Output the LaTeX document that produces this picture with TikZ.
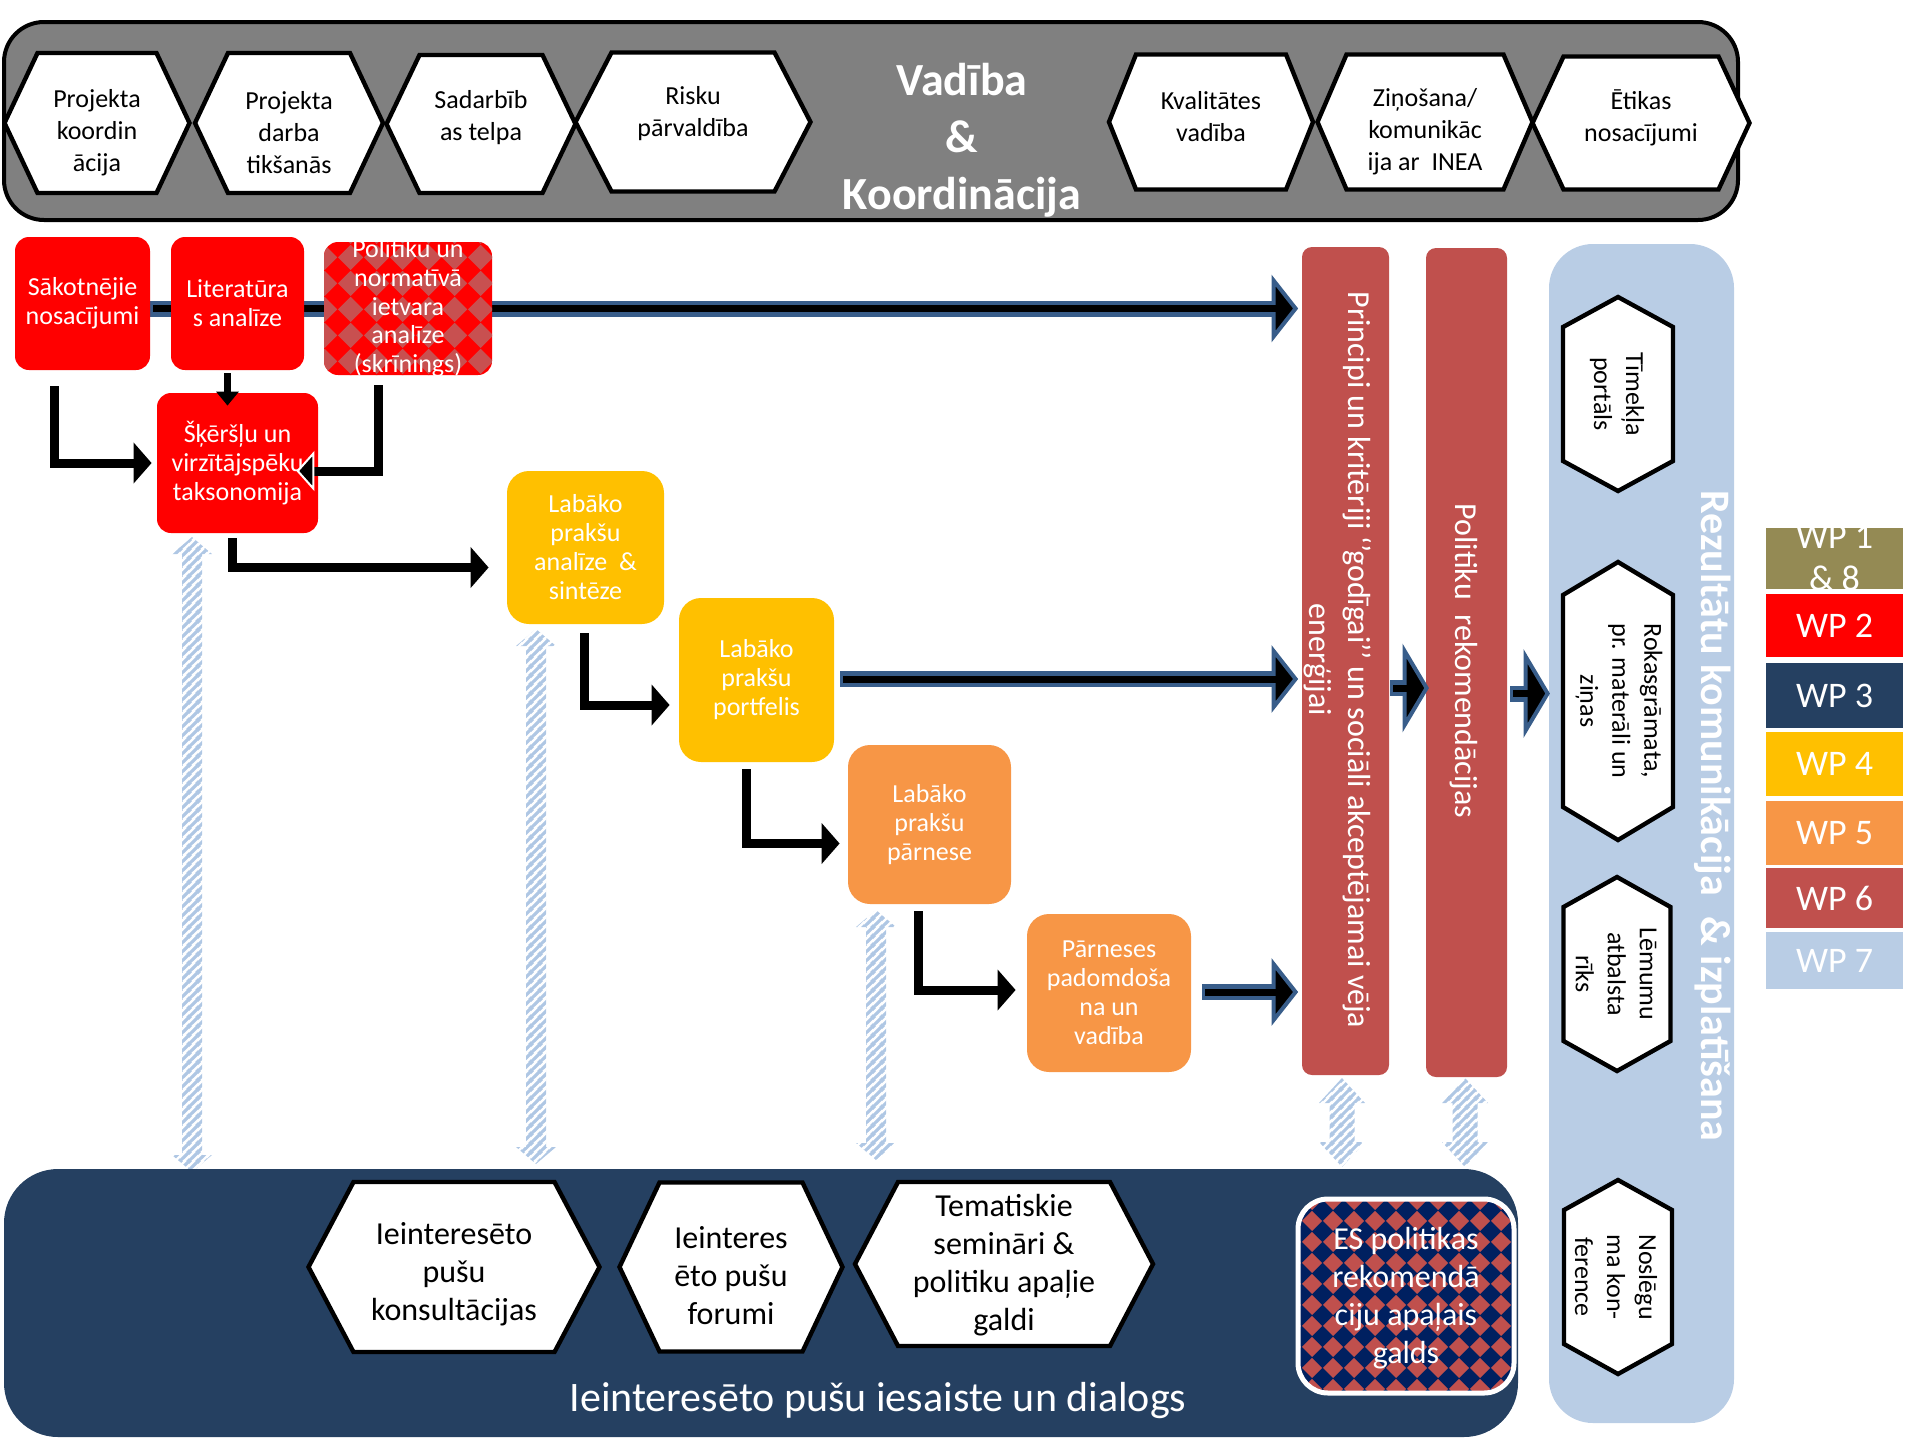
\documentclass[tikz,border=0pt]{standalone}
\usepackage{fontspec}
\setmainfont{Carlito}
\usetikzlibrary{arrows.meta,calc,patterns.meta}
\pgfdeclarelayer{background}
\pgfsetlayers{background,main}

\definecolor{wpolive}{HTML}{948A54}
\definecolor{wpred}{HTML}{FF0000}
\definecolor{wpnavy}{HTML}{254061}
\definecolor{wpyellow}{HTML}{FFC000}
\definecolor{wporange}{HTML}{F79646}
\definecolor{brick}{HTML}{C0504D}
\definecolor{lightblue}{HTML}{B9CDE5}
\definecolor{barGray}{HTML}{808080}
\definecolor{arrblue}{HTML}{385D8A}
\definecolor{esnavy}{HTML}{002060}
\definecolor{stripeblue}{HTML}{AFC7E4}
\definecolor{poldiamond}{RGB}{200,80,80}

\tikzdeclarepattern{
  name=diamondsA, type=uncolored,
  bottom left={(0pt,0pt)}, top right={(10.5pt,10.5pt)}, tile size={(10.5pt,10.5pt)},
  code={\fill (5.25pt,0pt) -- (10.5pt,5.25pt) -- (5.25pt,10.5pt) -- (0pt,5.25pt) -- cycle;}
}
\tikzdeclarepattern{
  name=diamondsB, type=uncolored,
  bottom left={(0pt,0pt)}, top right={(13pt,13pt)}, tile size={(13pt,13pt)},
  code={\fill (6.5pt,0pt) -- (13pt,6.5pt) -- (6.5pt,13pt) -- (0pt,6.5pt) -- cycle;}
}
\tikzdeclarepattern{
  name=stripesNE, type=uncolored,
  bottom left={(0pt,0pt)}, top right={(4.5pt,4.5pt)}, tile size={(4.5pt,4.5pt)},
  code={\draw[line width=1.7pt] (-1pt,-1pt) -- (5.5pt,5.5pt);
        \draw[line width=1.7pt] (-1pt,3.5pt) -- (1pt,5.5pt);
        \draw[line width=1.7pt] (3.5pt,-1pt) -- (5.5pt,1pt);}
}

\tikzset{
  boxtext/.style={text=white, align=center, font=\fontsize{13}{14.5}\selectfont},
  redbox/.style={boxtext, fill=wpred, rounded corners=7pt, inner sep=0pt},
  ylbox/.style={boxtext, fill=wpyellow, rounded corners=11pt, inner sep=0pt},
  orbox/.style={boxtext, fill=wporange, rounded corners=11pt, inner sep=0pt},
  barbox/.style={fill=brick, rounded corners=5pt, inner sep=0pt},
  hexline/.style={draw=black, fill=white, line width=2.2pt, line join=miter},
  hextext/.style={align=center, font=\fontsize{13}{16}\selectfont, inner sep=0pt},
  vtext/.style={hextext, rotate=-90},
  bhextext/.style={align=center, font=\fontsize{16}{19}\selectfont, inner sep=0pt},
  wpbox/.style={minimum width=68.5pt, inner sep=0pt, text=white, font=\fontsize{18}{21}\selectfont},
  elbow/.style={line width=4.5pt, line join=miter, -{Triangle[length=9pt,width=20pt]}},
  stripefill/.style={pattern=stripesNE, pattern color=stripeblue},
}

% horizontal hexagon (points left/right): cx, cy, w, h, d
\newcommand\hexh[5]{%
  \draw[hexline] ({#1-#3/2},#2) -- ({#1-#3/2+#5},{#2-#4/2}) -- ({#1+#3/2-#5},{#2-#4/2})
    -- ({#1+#3/2},#2) -- ({#1+#3/2-#5},{#2+#4/2}) -- ({#1-#3/2+#5},{#2+#4/2}) -- cycle;}
% vertical hexagon (points top/bottom): cx, cy, w, h, d
\newcommand\hexv[5]{%
  \draw[hexline] (#1,{#2-#4/2}) -- ({#1+#3/2},{#2-#4/2+#5}) -- ({#1+#3/2},{#2+#4/2-#5})
    -- (#1,{#2+#4/2}) -- ({#1-#3/2},{#2+#4/2-#5}) -- ({#1-#3/2},{#2-#4/2+#5}) -- cycle;}
% striped double arrow: cx, ytop, ybot, shaft half, head half, head length
\newcommand\stripearrow[6]{%
  \fill[stripefill] (#1,#2) -- ({#1+#5},{#2+#6}) -- ({#1+#4},{#2+#6}) -- ({#1+#4},{#3-#6})
    -- ({#1+#5},{#3-#6}) -- (#1,#3) -- ({#1-#5},{#3-#6}) -- ({#1-#4},{#3-#6})
    -- ({#1-#4},{#2+#6}) -- ({#1-#5},{#2+#6}) -- cycle;}
% blue outlined arrow: start, tip, head length, head half width
\newcommand\bluearrow[4]{%
  \draw[arrblue, line width=8pt] (#1) -- ($(#2)+(-#3,0)$);
  \filldraw[fill=black, draw=arrblue, line width=2pt, line join=miter]
    (#2) -- ++(-#3,-#4) -- ++(0,{2*#4}) -- cycle;
  \draw[black, line width=3.5pt] ($(#1)+(3,0)$) -- ($(#2)+({6-#3},0)$);}

\begin{document}
\begin{tikzpicture}[x=0.5pt,y=-0.5pt]
\useasboundingbox (0,0) rectangle (1915,1440);

% ---------- striped double arrows (behind) ----------
\stripearrow{192}{537}{1172}{10}{20}{17}
\stripearrow{536}{629}{1164}{10}{20}{17}
\stripearrow{876}{910}{1160}{10}{20}{17}
\stripearrow{1342}{1078}{1167}{12.5}{23}{25}
\stripearrow{1465}{1078}{1167}{12.5}{23}{25}

% ---------- top bar ----------
\node[fill=barGray, draw=black, line width=2pt, rounded corners=20pt,
      minimum width=867pt, minimum height=99pt, inner sep=0pt] (top) at (871,121) {};
\hexh{97}{123}{185}{140}{33}
\node[hextext] (h1) at (97,133) {Projekta\\koordin\\ācija};
\hexh{289}{123}{188}{140}{33}
\node[hextext] (h2) at (289,133) {Projekta\\darba\\tikšanās};
\hexh{481}{124}{189}{138}{33}
\node[hextext] (h3) at (481,118) {Sadarbīb\\as telpa};
\hexh{693}{122}{235}{139}{36}
\node[hextext] (h4) at (693,114) {Risku\\pārvaldība};
\hexh{1211}{122}{204}{135}{27}
\node[hextext] (h5) at (1211,117) {Kvalitātes\\vadība};
\hexh{1425}{122}{215}{135}{29}
\node[hextext] (h6) at (1425,132) {Ziņošana/\\komunikāc\\ija ar\ \ INEA};
\hexh{1641}{123}{217}{133}{31}
\node[hextext] (h7) at (1641,118) {Ētikas\\nosacījumi};
\node[text=white, align=center, font=\bfseries\fontsize{23}{28.5}\selectfont, inner sep=0pt]
  (vad) at (962,140) {Vadība\\\&\\Koordinācija};

% ---------- WP2 boxes ----------
\node[redbox, minimum width=67.5pt, minimum height=66.5pt] (sak) at (82.5,303.5) {Sākotnējie\\nosacījumi};
\node[redbox, minimum width=66.5pt, minimum height=66.5pt] (lit) at (237.5,303.5) {Literatūra\\s analīze};
\node[rounded corners=7pt, inner sep=0pt, minimum width=84pt, minimum height=66.5pt,
      preaction={fill=wpred}, pattern=diamondsB, pattern color=poldiamond,
      path picture={\node[boxtext, font=\fontsize{13}{14.35}\selectfont]
        at (path picture bounding box.center) {Politiku un\\normatīvā\\ietvara\\analīze\\(skrīnings)};}]
  (pol) at (408,308.5) {};
\node[redbox, minimum width=80.5pt, minimum height=70pt] (skers) at (237.5,463) {Šķēršļu un\\virzītājspēku\\taksonomija};

% ---------- WP4 / WP5 boxes ----------
\node[ylbox, minimum width=78.5pt, minimum height=76.5pt] (y1) at (585.5,547.5) {Labāko\\prakšu\\analīze\ \ \&\\sintēze};
\node[ylbox, minimum width=77.5pt, minimum height=82pt] (port) at (756.5,680) {Labāko\\prakšu\\portfelis};
\node[orbox, minimum width=81.5pt, minimum height=79.5pt] (parn) at (929.5,824.5) {Labāko\\prakšu\\pārnese};
\node[orbox, minimum width=82pt, minimum height=79pt] (padom) at (1109,993) {Pārneses\\padomdoša\\na un\\vadība};

% ---------- WP6 bars ----------
\node[barbox, minimum width=43.5pt, minimum height=414pt] (princ) at (1345.5,661) {};
\node[rotate=-90, text=white, align=center, font=\fontsize{16}{19.5}\selectfont, inner sep=0pt]
  (princT) at (1338,660) {Principi un kritēriji ‘’godīgai’’ un sociāli akceptējamai vēja\\enerģijai};
\node[barbox, minimum width=40.5pt, minimum height=414.5pt] (pr2) at (1466.5,662.5) {};
\node[rotate=-90, text=white, font=\fontsize{16}{19}\selectfont, inner sep=0pt]
  (pr2T) at (1464,661) {Politiku\ \ rekomendācijas};

% ---------- WP7 panel ----------
\node[fill=lightblue, rounded corners=22pt, minimum width=92.5pt, minimum height=589.5pt, inner sep=0pt]
  (rez) at (1641.5,833.5) {};
\node[rotate=-90, text=white, font=\bfseries\fontsize{21}{25}\selectfont, inner sep=0pt]
  (rezT) at (1713,816) {Rezultātu komunikācija\hspace{0.5em}\& izplatīšana};
\hexv{1618}{394}{110}{194}{30}
\node[vtext] (v1) at (1617,394) {Tīmekļa\\portāls};
\hexv{1618}{701}{110}{278}{33}
\node[vtext] (v2) at (1619,701) {Rokasgrāmata,\\pr. materāli un\\ziņas};
\hexv{1617}{974}{107}{194}{30}
\node[vtext] (v3) at (1616,974) {Lēmumu\\atbalsta\\rīks};
\hexv{1618}{1277}{108}{194}{30}
\node[vtext] (v4) at (1616,1277) {Noslēgu\\ma kon-\\ference};

% ---------- bottom panel (WP3) ----------
\node[fill=wpnavy, rounded corners=27pt, minimum width=757pt, minimum height=134pt, inner sep=0pt]
  (bot) at (761,1303) {};
\hexh{454}{1267}{291}{170}{45}
\node[bhextext] (b1) at (454,1274) {Ieinteresēto\\pušu\\konsultācijas};
\hexh{731}{1267}{223}{169}{40}
\node[bhextext] (b2) at (731,1276) {Ieinteres\\ēto pušu\\forumi};
\hexh{1004}{1264}{298}{164}{43}
\node[bhextext] (b3) at (1004,1265) {Tematiskie\\semināri \&\\politiku apaļie\\galdi};
\node[draw=white, line width=2.5pt, rounded corners=15pt, minimum width=108pt, minimum height=97pt,
      inner sep=0pt, preaction={fill=esnavy}, pattern=diamondsA, pattern color=brick]
  (es) at (1406,1296) {};
\node[text=white, align=center, font=\fontsize{16}{19}\selectfont, inner sep=0pt]
  (esT) at (1406,1298) {ES politikas\\rekomendā\\ciju apaļais\\galds};
\node[text=white, font=\fontsize{21}{25}\selectfont, inner sep=0pt]
  (botT) at (878,1401) {Ieinteresēto pušu iesaiste un dialogs};

% ---------- legend ----------
\node[wpbox, fill=wpolive, minimum height=30.5pt,
      path picture={\node[text=white, align=center, font=\fontsize{18}{21}\selectfont]
        at (path picture bounding box.center) {WP 1\\\& 8};}] (wp18) at (1834.5,558.5) {};
\node[wpbox, fill=wpred, minimum height=31.5pt] (wp2) at (1834.5,625.5) {WP 2};
\node[wpbox, fill=wpnavy, minimum height=32.5pt] (wp3) at (1834.5,695.5) {WP 3};
\node[wpbox, fill=wpyellow, minimum height=32pt] (wp4) at (1834.5,764) {WP 4};
\node[wpbox, fill=wporange, minimum height=32pt] (wp5) at (1834.5,833) {WP 5};
\node[wpbox, fill=brick, minimum height=30pt] (wp6) at (1834.5,898) {WP 6};
\node[wpbox, fill=lightblue, minimum height=28.5pt] (wp7) at (1834.5,960.5) {WP 7};

% ---------- blue arrows ----------
\coordinate (a1s) at (pol.east -| sak.east);
\coordinate (a1e) at ($(pol.east -| princ.west)+(-6,0)$);
\begin{pgfonlayer}{background}
\bluearrow{a1s}{a1e}{22}{28}
\end{pgfonlayer}
\coordinate (a2s) at ($(port.east)+(6,-1)$);
\coordinate (a2e) at ($(a2s -| princ.west)+(-6,0)$);
\bluearrow{a2s}{a2e}{22}{28}
\coordinate (a3s) at ($(padom.east)+(11,-1)$);
\coordinate (a3e) at ($(a3s -| princ.west)+(-6,0)$);
\bluearrow{a3s}{a3e}{22}{28}
\coordinate (a4s) at ($(princ.east)+(1,27)$);
\coordinate (a4e) at ($(a4s -| pr2.west)+(1,0)$);
\bluearrow{a4s}{a4e}{22}{37}
\coordinate (a5s) at ($(pr2.east)+(3,31)$);
\coordinate (a5e) at ($(a5s -| rez.west)+(-1,0)$);
\bluearrow{a5s}{a5e}{22}{37}

% ---------- black elbow arrows ----------
\draw[elbow] ($(sak.south west)+(40,16)$) |- ($(skers.west)+(-5,0)$);
\draw[line width=3.5pt, -{Triangle[length=7pt,width=11pt]}] ($(lit.south)+(-10,3)$) -- ($(skers.north)+(-10,13)$);
\draw[elbow, -{Triangle[length=9pt,width=20pt,fill=black,color=white,line width=1pt]}]
  ($(pol.south west)+(55,10)$) |- ($(skers.east)+(-22,8)$);
\draw[elbow] ($(skers.south)+(-5,5)$) |- ($(y1.west)+(-18,20)$);
\draw[elbow] ($(y1.south)+(-1,9)$) |- ($(port.west)+(-9,25)$);
\draw[elbow] ($(port.south)+(-10,7)$) |- ($(parn.west)+(-8,19)$);
\draw[elbow] ($(parn.south)+(-11,7)$) |- ($(padom.west)+(-11,-3)$);

\end{tikzpicture}
\end{document}
